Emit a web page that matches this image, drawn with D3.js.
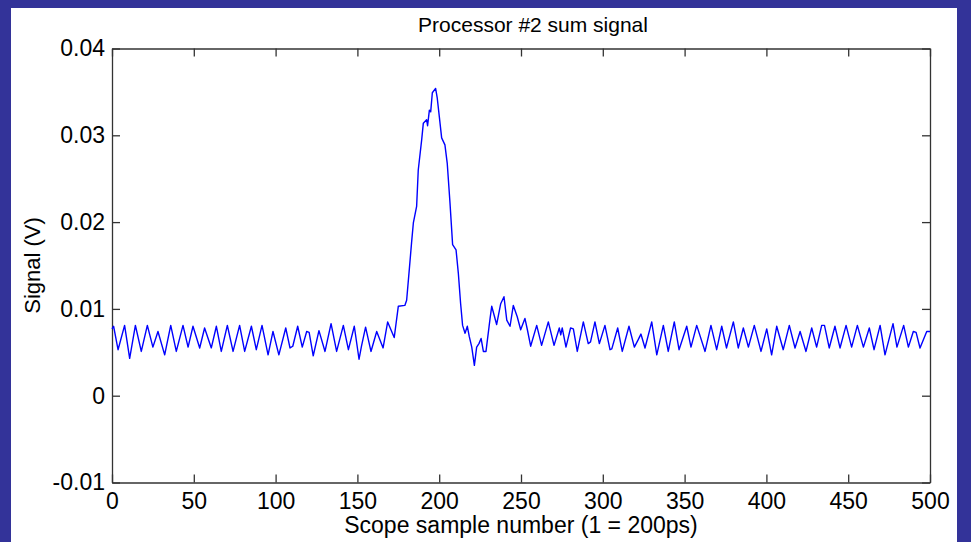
<!DOCTYPE html>
<meta charset="utf-8">
<html>
<script src="https://d3js.org/d3.v7.min.js"></script>
<body style="margin:0; background:#333399;">
<style>
    .tick text { font-family: "Liberation Sans", Arial, sans-serif; font-size: 23px; fill: #000; }
    .lbl { font-family: "Liberation Sans", Arial, sans-serif; fill: #000; }
</style>
<div id="chart"></div>
<script>
    // samples (x) and signal in volts (y) at its turning points
    var samples = [
        0, 1, 3.7, 7.7, 10.8, 14.3, 17.9, 21.6, 25, 28.1, 32.2, 35.9, 39.3, 43.4, 46.5, 49.5,
        53.6, 56.6, 60.7, 63.8, 66.8, 70.5, 74, 78, 81.1, 85.2, 88.2, 91.7, 95.4, 98.4,
        102, 106.2, 108.8, 110.5, 113.5, 116.3, 119, 120.5, 123, 126.5, 130.2, 133.9, 137.3,
        141.4, 144.5, 148.1, 151, 152.5, 155, 158.3, 161.8, 165.7, 168.5, 172.5,
        175, 179, 180.1, 181.7, 183.1, 184.2, 186.2, 187.2, 189.3, 190.3, 192.3, 192.9, 194,
        194.8, 195.8, 197.8, 198.8, 200.1, 201.5, 203.5, 204.9, 206.6, 208.2, 210.3, 211.7,
        213.1, 214.3, 215.8, 217.2, 218.4, 219.9, 221.5, 222.9, 224.3, 225.6, 227, 228.6,
        231.1, 232.1, 235.1, 237.6, 239.6, 241.3, 243.3, 245.3, 247.7, 249.8, 252.4, 253.9, 255.9,
        259.6, 262.6, 266.7, 270.2, 273.4, 274.3, 275.2, 277.5, 280.3, 282, 284.4, 288.1,
        291.1, 292.5, 295.2, 297.9, 301.3, 304.4, 305.5, 309.1, 311.9, 316, 319.3, 321.5,
        323.3, 325.8, 329.9, 333, 337, 340, 343.7, 346.6, 351.3, 353.9, 357.4, 362.5, 366.1,
        369.6, 372.7, 375.6, 379.8, 382.8, 385.9, 389, 392.6, 396.7, 400.2, 403.2,
        406.3, 410.3, 414, 417.5, 420.6, 424.2, 427.7, 430.7, 433.8, 435.5, 438.4, 441.9,
        445, 448.7, 452.1, 455.6, 459.3, 462.9, 465.8, 469.5, 472.5, 477.4, 479.8, 483.9,
        486.8, 489.8, 491.5, 493.9, 498, 500
    ];
    var signal = [
        0.0077, 0.0080, 0.0053, 0.0081, 0.0043, 0.0081, 0.0051, 0.0081, 0.0056, 0.0074, 0.0047, 0.0081, 0.0051, 0.0081, 0.0056, 0.0080,
        0.0055, 0.0078, 0.0055, 0.0080, 0.0051, 0.0081, 0.0051, 0.0081, 0.0051, 0.0080, 0.0053, 0.0081, 0.0047, 0.0074,
        0.0047, 0.0078, 0.0055, 0.0057, 0.0080, 0.0056, 0.0074, 0.0073, 0.0046, 0.0075, 0.0051, 0.0083, 0.0051,
        0.0081, 0.0053, 0.0080, 0.0042, 0.0057, 0.0079, 0.0051, 0.0074, 0.0055, 0.0085, 0.0067,
        0.0103, 0.0104, 0.0110, 0.0145, 0.0176, 0.0199, 0.0218, 0.0260, 0.0295, 0.0314, 0.0318, 0.0311, 0.0329,
        0.0327, 0.0349, 0.0354, 0.0343, 0.0321, 0.0297, 0.0289, 0.0268, 0.0222, 0.0174, 0.0168, 0.0141,
        0.0106, 0.0081, 0.0072, 0.0080, 0.0068, 0.0056, 0.0035, 0.0056, 0.0060, 0.0066, 0.0051, 0.0051,
        0.0089, 0.0103, 0.0082, 0.0106, 0.0114, 0.0087, 0.0080, 0.0104, 0.0091, 0.0076, 0.0089, 0.0076, 0.0057,
        0.0081, 0.0058, 0.0085, 0.0058, 0.0078, 0.0070, 0.0078, 0.0056, 0.0078, 0.0077, 0.0051, 0.0085,
        0.0060, 0.0062, 0.0085, 0.0060, 0.0081, 0.0053, 0.0054, 0.0078, 0.0051, 0.0080, 0.0056, 0.0064,
        0.0071, 0.0055, 0.0085, 0.0047, 0.0081, 0.0051, 0.0085, 0.0053, 0.0080, 0.0056, 0.0081, 0.0051, 0.0081,
        0.0053, 0.0080, 0.0055, 0.0085, 0.0055, 0.0078, 0.0056, 0.0081, 0.0051, 0.0077, 0.0047,
        0.0080, 0.0053, 0.0081, 0.0055, 0.0074, 0.0051, 0.0078, 0.0056, 0.0081, 0.0081, 0.0055, 0.0080,
        0.0055, 0.0081, 0.0056, 0.0081, 0.0056, 0.0078, 0.0053, 0.0081, 0.0047, 0.0083, 0.0056, 0.0081,
        0.0056, 0.0074, 0.0073, 0.0055, 0.0074, 0.0074
    ];
    var xTicks = [0, 50, 100, 150, 200, 250, 300, 350, 400, 450, 500];
    var yTicks = [-0.01, 0, 0.01, 0.02, 0.03, 0.04];
    var yTickLabels = ["-0.01", "0", "0.01", "0.02", "0.03", "0.04"];

    var data = samples.map(function(s, i) { return {x: s, y: signal[i]}; });

    //set margin
    var margin = {top: 48.5, right: 41, bottom: 59.5, left: 112},
        width = 971 - margin.left - margin.right,
        height = 542 - margin.top - margin.bottom;

    var root = d3.select("#chart").append("svg")
        .attr("width", 971)
        .attr("height", 542);

    //blue page and white figure
    root.append("rect").attr("width", 971).attr("height", 542).attr("fill", "#333399");
    root.append("rect").attr("x", 11).attr("y", 8).attr("width", 946).attr("height", 534).attr("fill", "#fff");

    var svg = root.append("g")
        .attr("transform", "translate(" + margin.left + "," + margin.top + ")");

    //scales
    var x = d3.scaleLinear().domain([0, 500]).range([0, width]);
    var y = d3.scaleLinear().domain([-0.01, 0.04]).range([height, 0]);

    var fmtY = function(d, i) { return yTickLabels[i]; };

    //axes with inward ticks, mirrored on top and right
    var gx = svg.append("g")
        .attr("transform", "translate(0," + height + ")")
        .call(d3.axisBottom(x).tickValues(xTicks).tickSizeInner(-8).tickSizeOuter(0).tickPadding(10));
    var gy = svg.append("g")
        .call(d3.axisLeft(y).tickValues(yTicks).tickFormat(fmtY).tickSizeInner(-8).tickSizeOuter(0).tickPadding(7));
    var gt = svg.append("g")
        .call(d3.axisTop(x).tickValues(xTicks).tickSizeInner(-8).tickSizeOuter(0).tickFormat(""));
    var gr = svg.append("g")
        .attr("transform", "translate(" + width + ",0)")
        .call(d3.axisRight(y).tickValues(yTicks).tickSizeInner(-8).tickSizeOuter(0).tickFormat(""));

    [gx, gy, gt, gr].forEach(function(g) {
        g.select(".domain").attr("stroke", "#333").attr("stroke-width", 1.3);
        g.selectAll(".tick line").attr("stroke", "#333").attr("stroke-width", 1.3);
    });

    //the trace
    var line = d3.line()
        .x(function(d) { return x(d.x); })
        .y(function(d) { return y(d.y); });

    svg.append("path")
        .datum(data)
        .attr("fill", "none")
        .attr("stroke", "#0000ff")
        .attr("stroke-width", 1.4)
        .attr("stroke-linejoin", "round")
        .attr("d", line);

    //title and axis labels
    svg.append("text")
        .attr("class", "lbl")
        .attr("text-anchor", "middle")
        .attr("x", width / 2 + 12)
        .attr("y", -17)
        .style("font-size", "21px")
        .text("Processor #2 sum signal");

    svg.append("text")
        .attr("class", "lbl")
        .attr("text-anchor", "middle")
        .attr("x", width / 2)
        .attr("y", height + 50)
        .style("font-size", "23px")
        .text("Scope sample number (1 = 200ps)");

    svg.append("text")
        .attr("class", "lbl")
        .attr("text-anchor", "middle")
        .attr("transform", "rotate(-90)")
        .attr("x", -height / 2)
        .attr("y", -72)
        .style("font-size", "22px")
        .text("Signal (V)");
</script>
</body>
</html>
